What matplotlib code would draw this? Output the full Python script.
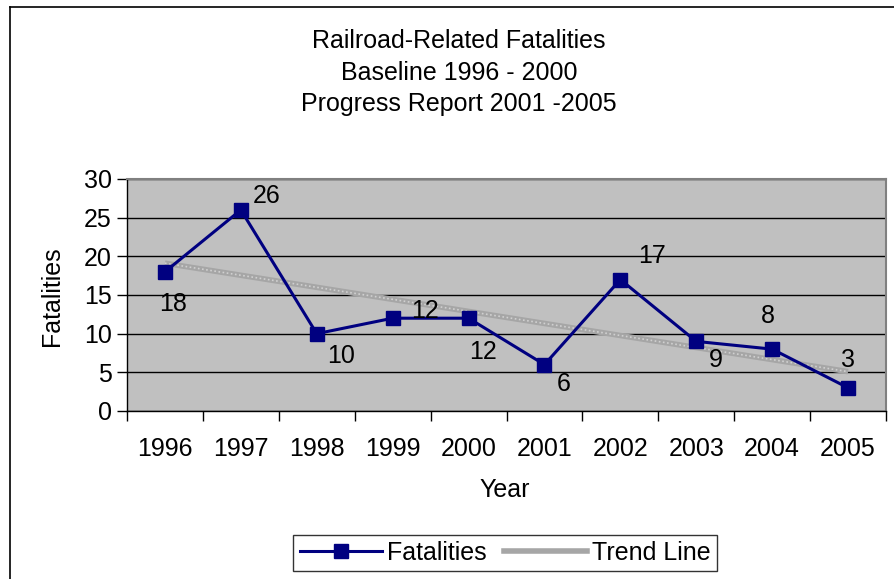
import matplotlib
matplotlib.use("Agg")
import matplotlib.pyplot as plt
import numpy as np
from matplotlib.lines import Line2D

plt.rcParams['font.family'] = ['Liberation Sans', 'DejaVu Sans']

years = ['1996', '1997', '1998', '1999', '2000', '2001', '2002', '2003', '2004', '2005']
fatalities = [18, 26, 10, 12, 12, 6, 17, 9, 8, 3]
title_lines = ['Railroad-Related Fatalities', 'Baseline 1996 - 2000', 'Progress Report 2001 -2005']
y_ticks = [0, 5, 10, 15, 20, 25, 30]

# label offsets in pixels (layout only)
label_offsets = [(8, -32), (26, 14), (24, -22), (32, 7), (14, -34),
                 (19, -19), (32, 24), (20, -19), (-4, 33), (0, 28)]

W, H = 895, 579
fig = plt.figure(figsize=(W / 100, H / 100), dpi=100)
fig.patch.set_facecolor('white')

ax = fig.add_axes([127 / W, 1 - 411 / H, 759 / W, 232 / H])
ax.set_facecolor('#C0C0C0')

x = np.arange(len(years))
# trend line (least squares fit)
coef = np.polyfit(x, fatalities, 1)
trend = np.polyval(coef, x)
ax.plot(x, trend, color='#A6A6A6', lw=4, solid_capstyle='butt', zorder=2, label='Trend Line')
ax.plot(x, trend, color='#D0D0D0', lw=1.2, ls=(0, (1, 1.5)), zorder=2.1)

ax.plot(x, fatalities, color='#000080', lw=2.2, marker='s', markersize=10,
        markerfacecolor='#000080', markeredgecolor='#000080', zorder=3, label='Fatalities')

for xi, v, (dx, dy) in zip(x, fatalities, label_offsets):
    ax.annotate(str(v), (xi, v), xytext=(dx, dy), textcoords='offset pixels',
                ha='center', va='center', fontsize=18, color='black', zorder=4)

ax.set_xlim(-0.5, len(years) - 0.5)
ax.set_ylim(0, 30)
ax.set_yticks(y_ticks)
ax.set_yticklabels([str(t) for t in y_ticks], fontsize=18)
ax.set_xticks(x)
ax.set_xticklabels(years, fontsize=18)
ax.set_xticks(np.arange(-0.5, len(years), 1.0), minor=True)
ax.tick_params(axis='x', which='major', length=0, pad=19)
ax.tick_params(axis='x', which='minor', length=7, width=1, direction='out', color='black')
ax.tick_params(axis='y', length=7, width=1, direction='out', pad=4, color='black')

ax.yaxis.grid(True, color='black', lw=1)
ax.set_axisbelow(True)
for s in ['left', 'bottom']:
    ax.spines[s].set_color('black')
    ax.spines[s].set_linewidth(1)
for s in ['top', 'right']:
    ax.spines[s].set_color('#808080')
    ax.spines[s].set_linewidth(1.5)

fig.text(52 / W, 1 - 296 / H, 'Fatalities', rotation=90, ha='center', va='center', fontsize=18)
fig.text(505 / W, 1 - 490 / H, 'Year', ha='center', va='center', fontsize=18)

for i, t in enumerate(title_lines):
    fig.text(459 / W, 1 - (41 + 31.5 * i) / H, t, ha='center', va='center', fontsize=18)

handles = [Line2D([], [], color='#000080', lw=2.2, marker='s', markersize=10),
           Line2D([], [], color='#A6A6A6', lw=4)]
leg = fig.legend(handles, ['Fatalities', 'Trend Line'], loc='center',
                 bbox_to_anchor=(505 / W, 1 - 553 / H), ncol=2, fontsize=18,
                 frameon=True, fancybox=False, handlelength=3.3, handletextpad=0.2,
                 columnspacing=0.7, borderpad=0.25, borderaxespad=0)
leg.get_frame().set_edgecolor('black')
leg.get_frame().set_linewidth(1)

# outer chart border (extends beyond bottom/right of image)
fig.add_artist(Line2D([10 / W, 10 / W], [0, 1 - 7 / H], color='black', lw=1.2, transform=fig.transFigure))
fig.add_artist(Line2D([10 / W, 1], [1 - 7 / H, 1 - 7 / H], color='black', lw=1.2, transform=fig.transFigure))

fig.savefig('out.png', dpi=100)
